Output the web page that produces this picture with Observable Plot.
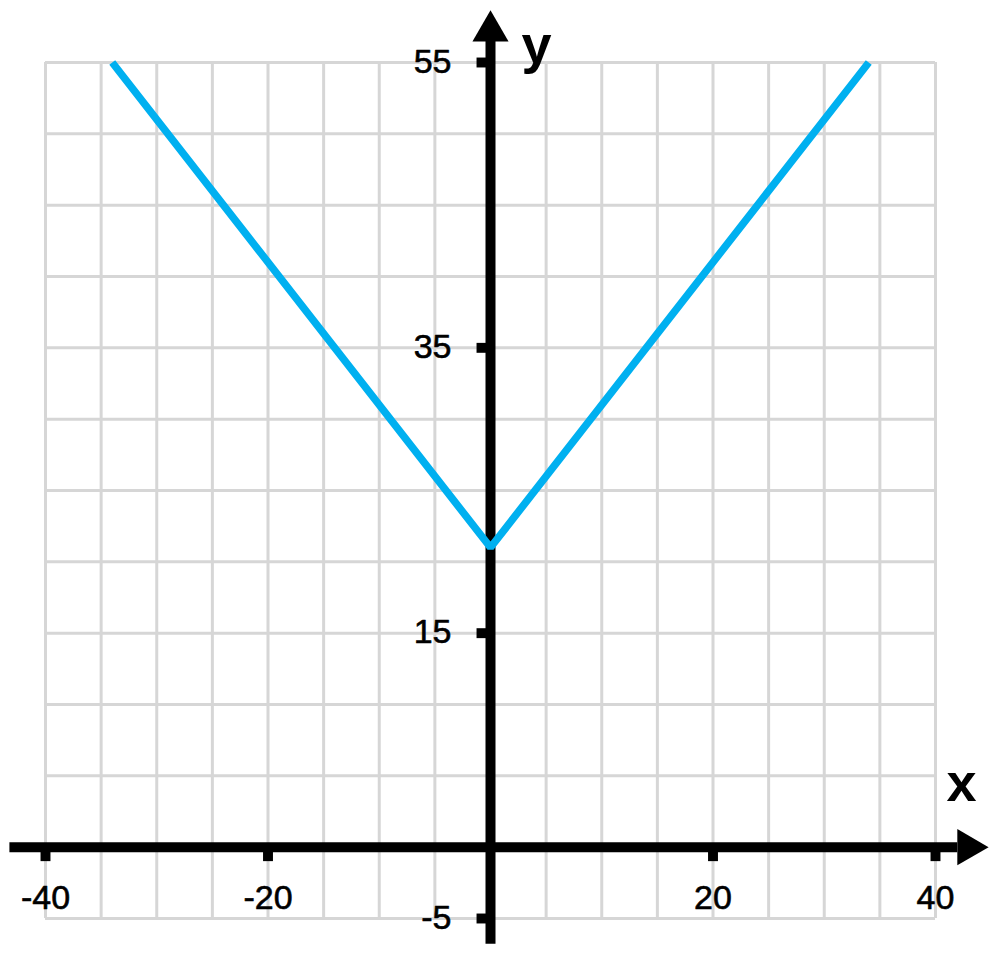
<!DOCTYPE html>
<html>
<head>
<meta charset="utf-8">
<script src="https://cdn.jsdelivr.net/npm/d3@7"></script>
<script src="https://cdn.jsdelivr.net/npm/@observablehq/plot@0.6"></script>
<style>
  html, body { margin: 0; padding: 0; background: #fff; }
  #chart svg { display: block; }
</style>
</head>
<body>
<div id="chart"></div>
<script>
// Data: y = |x| + 21
const lineX = [-34, 0, 34];
const lineY = [55, 21, 55];

// grid and tick values
const gridX = d3.range(-40, 41, 5);
const gridY = d3.range(-5, 56, 5);
const xTickValues = [-40, -20, 20, 40];
const xTickLabels = ["-40", "-20", "20", "40"];
const yTickValues = [55, 35, 15, -5];
const yTickLabels = ["55", "35", "15", "-5"];

const lineData = lineX.map((x, i) => ({x, y: lineY[i]}));
const xTicks = xTickValues.map((v, i) => ({v, label: xTickLabels[i]}));
const yTicks = yTickValues.map((v, i) => ({v, label: yTickLabels[i]}));

const font = "'Liberation Sans', Arial, sans-serif";

const chart = Plot.plot({
  width: 1000,
  height: 963,
  marginLeft: 45,
  marginRight: 65,
  marginTop: 62,
  marginBottom: 45,
  x: {domain: [-40, 40], axis: null},
  y: {domain: [-5, 55], axis: null},
  style: {background: "#fff", fontFamily: font},
  marks: [
    // grid
    Plot.ruleX(gridX, {x: d => d, y1: -5, y2: 55, stroke: "#d6d6d6", strokeWidth: 3}),
    Plot.ruleY(gridY, {y: d => d, x1: -40, x2: 40, stroke: "#d6d6d6", strokeWidth: 3}),
    // axes
    Plot.ruleY([0], {x1: -43.2, x2: 42, stroke: "black", strokeWidth: 10}),
    Plot.ruleX([0], {y1: -6.8, y2: 57, stroke: "black", strokeWidth: 10}),
    // tick marks
    Plot.dot(xTicks, {x: "v", y: () => 0, dy: 9, symbol: "square", r: 5.6, fill: "black", stroke: "none"}),
    Plot.dot(yTicks, {x: () => 0, y: "v", dx: -9, symbol: "square", r: 5.6, fill: "black", stroke: "none"}),
    // the V line
    Plot.line(lineData, {x: "x", y: "y", stroke: "#00b0f0", strokeWidth: 7.5, strokeLinecap: "butt", strokeLinejoin: "miter"}),
    // arrow heads
    Plot.dot([{x: 0, y: 57.2}], {x: "x", y: "y", symbol: "triangle", r: 13.4, fill: "black", stroke: "none"}),
    Plot.dot([{x: 42.9, y: 0}], {x: "x", y: "y", symbol: "triangle", r: 13.4, rotate: 90, fill: "black", stroke: "none"}),
    // tick labels
    Plot.text(xTicks, {x: "v", y: () => 0, text: "label", dy: 62, lineAnchor: "bottom", textAnchor: "middle", fontSize: 34, fill: "black", stroke: "black", strokeWidth: 0.6}),
    Plot.text(yTicks, {x: () => 0, y: "v", text: "label", dx: -39, dy: 10, lineAnchor: "bottom", textAnchor: "end", fontSize: 34, fill: "black", stroke: "black", strokeWidth: 0.6}),
    // axis names
    Plot.text(["y"], {x: () => 0, y: () => 55, text: d => d, dx: 31, dy: 0, lineAnchor: "bottom", textAnchor: "start", fontSize: 54, fontWeight: "bold", fill: "black"}),
    Plot.text(["x"], {x: () => 40, y: () => 0, text: d => d, dx: 11, dy: -46, lineAnchor: "bottom", textAnchor: "start", fontSize: 54, fontWeight: "bold", fill: "black"})
  ]
});
document.getElementById("chart").appendChild(chart);
</script>
</body>
</html>
